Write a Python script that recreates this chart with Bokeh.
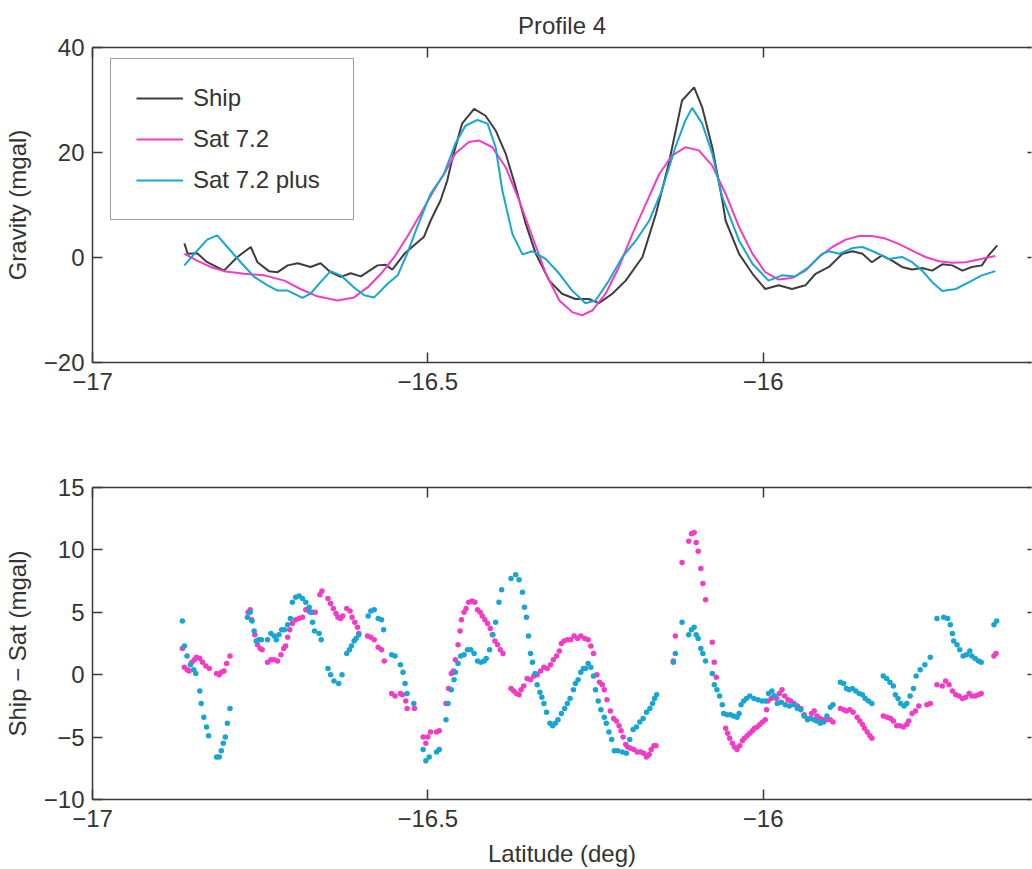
from bokeh.plotting import figure
from bokeh.models import Range1d, FixedTicker, LinearAxis, Legend, LegendItem
from bokeh.layouts import column
from bokeh.embed import file_html
from bokeh.resources import INLINE

FONT = "Liberation Sans"
TXT = "#333333"
AXC = "#3a3a3a"
C_SHIP = "#3d3d3d"
C_S72 = "#f23cc6"
C_S72P = "#17a6d2"
FS = "24px"

# ---------------- tick values / labels ----------------
x_ticks = [-17, -16.5, -16]
x_tick_labels = {-17: "\u221217", -16.5: "\u221216.5", -16: "\u221216"}
top_y_ticks = [-20, 0, 20, 40]
top_y_labels = {-20: "\u221220", 0: "0", 20: "20", 40: "40"}
bot_y_ticks = [-10, -5, 0, 5, 10, 15]
bot_y_labels = {-10: "\u221210", -5: "\u22125", 0: "0", 5: "5", 10: "10", 15: "15"}

# ---------------- top panel: gravity profiles ----------------
lat_ship = [-16.863, -16.858, -16.844, -16.829, -16.804, -16.784, -16.764, -16.754, -16.737, -16.724,
            -16.709, -16.694, -16.675, -16.660, -16.645, -16.630, -16.615, -16.600, -16.575, -16.563,
            -16.553, -16.535, -16.521, -16.506, -16.496, -16.481, -16.471, -16.463, -16.449, -16.431,
            -16.414, -16.399, -16.384, -16.369, -16.354, -16.339, -16.319, -16.300, -16.280, -16.260,
            -16.245, -16.225, -16.205, -16.180, -16.160, -16.141, -16.121, -16.103, -16.091, -16.076,
            -16.061, -16.056, -16.036, -16.016, -15.997, -15.977, -15.957, -15.937, -15.922, -15.902,
            -15.882, -15.867, -15.852, -15.838, -15.823, -15.808, -15.793, -15.778, -15.763, -15.748,
            -15.733, -15.718, -15.703, -15.689, -15.674, -15.664, -15.651]
grav_ship = [2.7, 0.7, 0.8, -0.9, -2.5, 0.1, 2.0, -0.9, -2.6, -2.8,
             -1.5, -1.1, -1.8, -1.1, -2.8, -3.7, -3.0, -3.6, -1.5, -1.4,
             -2.3, 0.7, 2.3, 3.9, 7.0, 10.9, 14.7, 19.1, 25.5, 28.3,
             27.0, 24.2, 19.8, 13.4, 6.4, 0.7, -4.4, -6.9, -7.9, -7.9,
             -8.7, -6.9, -4.4, 0.1, 8.3, 17.8, 29.9, 32.4, 28.6, 21.0,
             10.9, 7.0, 0.7, -3.1, -6.0, -5.3, -6.0, -5.3, -3.1, -1.8,
             0.7, 1.2, 0.7, -0.9, 0.4, -0.6, -1.8, -2.3, -2.0, -2.5,
             -1.3, -1.5, -2.5, -1.8, -1.5, 0.4, 2.3]

lat_s72 = [-16.863, -16.844, -16.824, -16.804, -16.774, -16.744, -16.714, -16.690, -16.665, -16.635,
           -16.610, -16.590, -16.570, -16.550, -16.531, -16.511, -16.491, -16.476, -16.459, -16.439,
           -16.424, -16.404, -16.384, -16.364, -16.344, -16.324, -16.304, -16.285, -16.270, -16.255,
           -16.235, -16.215, -16.195, -16.175, -16.155, -16.136, -16.116, -16.096, -16.076, -16.056,
           -16.036, -16.016, -15.997, -15.977, -15.957, -15.937, -15.917, -15.897, -15.877, -15.857,
           -15.838, -15.818, -15.798, -15.778, -15.758, -15.738, -15.718, -15.698, -15.679, -15.654]
grav_s72 = [0.7, -0.6, -1.8, -2.6, -3.1, -3.4, -4.4, -6.0, -7.4, -8.2,
            -7.6, -5.7, -3.1, 0.1, 3.9, 8.3, 12.8, 15.9, 19.8, 22.0,
            22.3, 21.0, 17.2, 10.9, 3.9, -3.1, -8.2, -10.4, -11.0, -10.1,
            -6.9, -1.8, 4.5, 10.2, 15.9, 19.4, 21.0, 20.4, 17.5, 12.1,
            5.8, 0.7, -2.8, -4.2, -3.9, -2.5, 0.1, 2.0, 3.4, 4.1,
            4.1, 3.6, 2.6, 1.3, 0.1, -0.7, -1.0, -0.9, -0.4, 0.3]

lat_s72p = [-16.863, -16.844, -16.829, -16.814, -16.799, -16.779, -16.759, -16.739, -16.724, -16.709,
            -16.687, -16.675, -16.660, -16.645, -16.630, -16.610, -16.595, -16.580, -16.560, -16.545,
            -16.531, -16.516, -16.496, -16.476, -16.459, -16.444, -16.426, -16.411, -16.399, -16.389,
            -16.374, -16.359, -16.344, -16.324, -16.304, -16.285, -16.265, -16.250, -16.230, -16.210,
            -16.190, -16.170, -16.151, -16.131, -16.116, -16.106, -16.091, -16.076, -16.061, -16.036,
            -16.016, -15.992, -15.972, -15.952, -15.932, -15.912, -15.902, -15.887, -15.867, -15.852,
            -15.833, -15.813, -15.793, -15.778, -15.763, -15.748, -15.733, -15.713, -15.693, -15.674,
            -15.654]
grav_s72p = [-1.5, 1.3, 3.4, 4.2, 2.0, -0.9, -3.7, -5.3, -6.3, -6.3,
             -7.7, -6.9, -4.7, -2.6, -3.4, -5.7, -7.2, -7.6, -5.0, -3.4,
             0.7, 5.8, 12.1, 15.9, 21.7, 25.1, 26.2, 25.5, 21.0, 12.8,
             4.5, 0.6, 1.2, -0.3, -3.1, -6.3, -8.7, -8.2, -4.4, 0.1,
             3.2, 7.0, 12.8, 21.0, 26.1, 28.5, 25.5, 19.8, 11.5, 3.2,
             -1.2, -4.4, -3.4, -3.6, -1.8, 0.7, 1.2, 0.7, 1.8, 2.0,
             1.0, -0.3, 0.1, -0.9, -2.5, -4.7, -6.4, -6.0, -4.7, -3.4,
             -2.6]

# ---------------- bottom panel: Ship - Sat differences ----------------
lat_d72 = [-16.866, -16.863, -16.859, -16.856, -16.852, -16.848, -16.845, -16.840, -16.836, -16.831,
           -16.826, -16.815, -16.811, -16.808, -16.804, -16.800, -16.795,
           -16.768, -16.765, -16.763, -16.758, -16.754, -16.750, -16.747, -16.739, -16.734, -16.729,
           -16.724, -16.719, -16.715, -16.712, -16.709, -16.706, -16.702, -16.697, -16.692, -16.687,
           -16.682, -16.677, -16.672, -16.668,
           -16.661, -16.658, -16.649, -16.645, -16.641, -16.637, -16.634, -16.630, -16.627, -16.621,
           -16.616, -16.613, -16.609, -16.605, -16.603, -16.590, -16.585, -16.580, -16.574, -16.569,
           -16.565,
           -16.554, -16.549, -16.541, -16.538, -16.533, -16.531, -16.520,
           -16.507, -16.503, -16.500, -16.496, -16.487, -16.483, -16.473, -16.469, -16.465, -16.462,
           -16.459, -16.455, -16.452, -16.450, -16.446, -16.443, -16.439, -16.434, -16.430, -16.426,
           -16.422, -16.419, -16.415, -16.411, -16.407, -16.404, -16.400, -16.396, -16.392, -16.388,
           -16.376, -16.372, -16.368, -16.364, -16.361, -16.357, -16.352, -16.347, -16.342, -16.337,
           -16.332, -16.327, -16.322, -16.317, -16.313, -16.308, -16.304, -16.301, -16.297, -16.292,
           -16.287, -16.282, -16.277, -16.272, -16.266, -16.261, -16.257, -16.253, -16.248, -16.244,
           -16.240, -16.237, -16.233, -16.228, -16.223, -16.219, -16.215, -16.212, -16.209, -16.205,
           -16.202, -16.198, -16.193, -16.188, -16.183, -16.178, -16.174, -16.170, -16.167, -16.163,
           -16.160,
           -16.134, -16.131, -16.121, -16.111, -16.107, -16.103, -16.100, -16.097, -16.093, -16.090,
           -16.086, -16.076, -16.073, -16.070, -16.056, -16.053, -16.050, -16.046, -16.043, -16.039,
           -16.035, -16.031, -16.028, -16.024, -16.020, -16.016, -16.013, -16.009, -16.005, -16.001,
           -15.997, -15.995, -15.993, -15.988, -15.984, -15.980, -15.976, -15.972, -15.968, -15.963,
           -15.959, -15.954, -15.949, -15.944, -15.939, -15.934, -15.928, -15.924, -15.920, -15.915,
           -15.910, -15.905, -15.900, -15.896,
           -15.885, -15.880, -15.876, -15.871, -15.866, -15.860, -15.856, -15.852, -15.849, -15.845,
           -15.841, -15.838,
           -15.821, -15.815, -15.810, -15.806, -15.801, -15.796, -15.791, -15.786, -15.783, -15.778,
           -15.773, -15.768, -15.756, -15.751,
           -15.741, -15.733, -15.728, -15.723, -15.718, -15.713, -15.708, -15.703, -15.698, -15.693,
           -15.689, -15.684, -15.679, -15.675,
           -15.656, -15.653]
d72 = [2.1, 0.6, 0.4, 0.3, 1.0, 1.2, 1.4, 1.3, 1.0, 0.7,
       0.5, 0.1, 0.0, 0.2, 0.3, 0.9, 1.5,
       5.0, 5.2, 4.4, 3.2, 2.4, 2.1, 2.0, 1.0, 1.2, 1.2,
       1.1, 1.6, 2.1, 2.3, 3.0, 3.6, 4.1, 4.4, 4.5, 4.6,
       5.2, 5.1, 5.0, 5.0,
       6.4, 6.7, 6.1, 5.7, 5.3, 4.9, 4.6, 4.5, 4.7, 5.3,
       5.1, 4.6, 4.2, 3.8, 3.3, 3.1, 3.0, 2.8, 2.2, 2.0,
       1.1,
       -1.5, -1.7, -1.5, -1.6, -2.1, -2.7, -2.7,
       -5.0, -5.5, -5.0, -4.6, -4.6, -4.5, -2.3, -1.1, 0.1, 0.3,
       1.2, 2.4, 3.5, 4.4, 5.0, 5.3, 5.8, 5.9, 5.8, 5.2,
       5.0, 4.7, 4.4, 4.1, 3.7, 3.2, 2.7, 2.4, 2.0, 1.7,
       -1.1, -1.3, -1.5, -1.6, -1.2, -0.9, -0.3, -0.4, -0.1, 0.0,
       0.3, 0.6, 0.5, 0.8, 1.2, 1.5, 1.9, 2.5, 2.7, 2.8,
       2.8, 3.1, 2.9, 3.1, 2.9, 2.8, 2.3, 1.7, 0.0, -0.6,
       -0.8, -1.2, -2.0, -2.9, -3.5, -3.7, -4.1, -4.5, -5.0, -5.6,
       -5.8, -5.9, -6.0, -6.2, -6.2, -6.3, -6.6, -6.4, -6.0, -5.7,
       -5.7,
       1.1, 3.1, 9.0, 10.7, 11.3, 11.4, 10.6, 9.9, 8.5, 7.3,
       6.0, 2.6, 1.0, -0.2, -4.3, -4.7, -5.1, -5.5, -5.8, -6.0,
       -5.7, -5.3, -5.1, -4.9, -4.7, -4.5, -4.3, -4.2, -4.0, -3.8,
       -3.6, -2.8, -2.1, -1.9, -1.7, -1.9, -1.5, -1.2, -1.7, -2.0,
       -2.1, -2.3, -2.5, -2.7, -3.2, -3.5, -3.1, -2.9, -3.3, -3.5,
       -3.6, -3.6, -3.6, -3.8,
       -2.7, -2.8, -2.9, -2.8, -3.0, -3.4, -3.7, -4.0, -4.3, -4.6,
       -4.9, -5.1,
       -3.3, -3.4, -3.5, -3.7, -4.1, -4.1, -4.2, -4.0, -3.7, -3.1,
       -2.9, -2.5, -2.4, -2.3,
       -0.8, -0.9, -0.5, -0.8, -1.3, -1.6, -1.7, -1.9, -1.8, -1.5,
       -1.7, -1.7, -1.6, -1.5,
       1.5, 1.7]

lat_d72p = [-16.866, -16.863, -16.859, -16.854, -16.849, -16.846, -16.840, -16.838, -16.834, -16.830,
            -16.827, -16.815, -16.811, -16.808, -16.805, -16.802, -16.799, -16.795,
            -16.769, -16.765, -16.762, -16.759, -16.756, -16.752, -16.748, -16.739, -16.734, -16.729,
            -16.726, -16.722, -16.718, -16.714, -16.709, -16.705, -16.702, -16.697, -16.692, -16.687,
            -16.682, -16.677, -16.675, -16.672, -16.669, -16.662, -16.659,
            -16.649, -16.645, -16.640, -16.633, -16.628,
            -16.621, -16.617, -16.614, -16.610, -16.607, -16.603, -16.589, -16.585, -16.580, -16.574,
            -16.569, -16.566, -16.554, -16.549, -16.541, -16.537, -16.534, -16.531, -16.521,
            -16.507, -16.503, -16.498, -16.487, -16.483, -16.473, -16.470, -16.465, -16.461, -16.459,
            -16.455, -16.451, -16.446, -16.441, -16.436, -16.431, -16.426, -16.421, -16.416, -16.413,
            -16.408, -16.403, -16.399, -16.394, -16.390,
            -16.376, -16.369, -16.364, -16.359, -16.356, -16.353, -16.350, -16.347, -16.344, -16.340,
            -16.337, -16.333, -16.330, -16.327, -16.323, -16.318, -16.314, -16.310, -16.306, -16.301,
            -16.296, -16.292, -16.288, -16.283, -16.280, -16.276, -16.272, -16.268, -16.265, -16.261,
            -16.257, -16.253, -16.250, -16.246, -16.242, -16.237, -16.234, -16.230, -16.226, -16.222,
            -16.217, -16.210, -16.204, -16.199, -16.194, -16.189, -16.184, -16.179, -16.174, -16.169,
            -16.165, -16.162, -16.159,
            -16.134, -16.131, -16.121, -16.111, -16.107, -16.103, -16.100, -16.097, -16.093, -16.090,
            -16.086, -16.076, -16.073, -16.069, -16.065, -16.061, -16.059, -16.054, -16.049, -16.044,
            -16.039, -16.036, -16.033, -16.029, -16.025, -16.020, -16.014, -16.008, -16.002, -15.997,
            -15.992, -15.987, -15.983, -15.979, -15.973, -15.967, -15.961, -15.954, -15.949, -15.944,
            -15.939, -15.934, -15.929, -15.924, -15.920, -15.915, -15.910, -15.905, -15.900, -15.896,
            -15.885, -15.880, -15.876, -15.872, -15.867, -15.862, -15.857, -15.852, -15.848, -15.843,
            -15.838,
            -15.821, -15.816, -15.811, -15.806, -15.803, -15.799, -15.795, -15.790, -15.786, -15.781,
            -15.776, -15.772, -15.766, -15.759, -15.751,
            -15.741, -15.731, -15.725, -15.721, -15.718, -15.716, -15.711, -15.707, -15.702, -15.697,
            -15.692, -15.689, -15.684, -15.679, -15.675,
            -15.656, -15.652]
d72p = [4.3, 2.3, 1.5, 0.8, 0.4, 0.1, -1.3, -2.3, -3.4, -4.2,
        -4.9, -6.6, -6.6, -6.1, -5.5, -5.0, -3.9, -2.7,
        4.6, 5.0, 4.3, 3.5, 2.7, 2.8, 2.8, 2.8, 3.3, 3.1,
        2.8, 3.2, 3.6, 3.6, 4.0, 4.5, 5.8, 6.2, 6.3, 6.1,
        5.8, 5.4, 5.0, 4.2, 3.5, 3.3, 2.8,
        0.5, 0.0, -0.5, -0.7, 0.0,
        1.7, 2.0, 2.3, 2.7, 2.9, 3.2, 4.7, 5.1, 5.2, 4.5,
        4.4, 3.6, 1.6, 1.5, 0.8, 0.2, -0.7, -1.5, -2.3,
        -6.0, -6.9, -6.6, -6.2, -6.0, -3.6, -2.3, -1.2, -0.4, 0.2,
        0.9, 1.5, 1.6, 2.0, 2.0, 1.7, 1.1, 1.0, 1.1, 1.3,
        2.0, 3.2, 4.2, 5.8, 6.8,
        7.7, 8.0, 7.6, 6.6, 5.4, 4.6, 3.1, 1.7, 1.0, 0.1,
        -0.8, -1.4, -1.8, -2.3, -3.0, -3.9, -4.1, -3.9, -3.6, -3.1,
        -2.7, -2.3, -1.9, -1.2, -0.7, -0.4, 0.2, 0.5, 0.5, 0.9,
        0.6, -0.1, -1.2, -2.1, -2.8, -3.4, -3.9, -4.6, -5.2, -6.1,
        -6.1, -6.2, -6.3, -5.2, -4.4, -4.2, -3.8, -3.5, -3.0, -2.7,
        -2.3, -1.9, -1.6,
        1.0, 1.7, 4.2, 3.2, 3.6, 3.8, 3.2, 2.9, 2.1, 1.7,
        1.1, 0.1, -0.8, -1.2, -1.7, -2.4, -3.1, -3.2, -3.2, -3.3,
        -3.4, -3.1, -2.4, -2.1, -1.9, -1.7, -1.9, -2.0, -2.1, -2.1,
        -1.5, -1.3, -1.7, -2.3, -2.2, -2.4, -2.5, -2.4, -2.7, -2.8,
        -3.3, -3.6, -3.5, -3.6, -3.7, -3.9, -3.8, -3.3, -2.6, -2.4,
        -0.6, -0.7, -1.1, -1.2, -1.1, -1.3, -1.5, -1.6, -1.9, -2.1,
        -2.3,
        -0.1, -0.3, -0.6, -0.9, -1.6, -1.9, -2.3, -2.5, -2.3, -1.7,
        -1.1, -0.1, 0.4, 0.8, 1.4,
        4.5, 4.6, 4.5, 4.0, 3.3, 2.7, 2.4, 2.0, 1.5, 1.6,
        1.9, 1.5, 1.3, 1.1, 1.0,
        4.0, 4.3]


def style_axis(ax, show_labels=True):
    ax.axis_line_color = AXC
    ax.axis_line_width = 1.5
    ax.major_tick_line_color = AXC
    ax.major_tick_line_width = 1.5
    ax.major_tick_in = 10
    ax.major_tick_out = 0
    ax.minor_tick_in = 0
    ax.minor_tick_out = 0
    ax.minor_tick_line_color = None
    ax.major_label_text_font = FONT
    ax.major_label_text_color = TXT
    ax.major_label_text_font_size = FS if show_labels else "0px"
    ax.axis_label_text_font = FONT
    ax.axis_label_text_font_size = FS
    ax.axis_label_text_color = TXT
    ax.axis_label_text_font_style = "normal"


def make_panel(height, y_lo, y_hi, yticks, ylabels, ylabel, min_top, min_bottom, xlabel=None):
    p = figure(width=1032, height=height,
               x_range=Range1d(-17, -15.6), y_range=Range1d(y_lo, y_hi),
               x_axis_type=None, y_axis_type=None,
               output_backend="svg", toolbar_location=None,
               min_border_left=90, min_border_right=1,
               min_border_top=min_top, min_border_bottom=min_bottom)
    p.outline_line_color = None
    p.background_fill_color = "white"
    p.border_fill_color = "white"

    xb = LinearAxis(ticker=FixedTicker(ticks=x_ticks), major_label_overrides=x_tick_labels)
    style_axis(xb)
    xb.major_label_standoff = 10
    if xlabel:
        xb.axis_label = xlabel
        xb.axis_label_standoff = 10
    p.add_layout(xb, "below")

    yl = LinearAxis(ticker=FixedTicker(ticks=yticks), major_label_overrides=ylabels,
                    axis_label=ylabel)
    style_axis(yl)
    yl.major_label_standoff = 8
    yl.axis_label_standoff = 10
    p.add_layout(yl, "left")

    xt = LinearAxis(ticker=FixedTicker(ticks=x_ticks),
                    major_label_overrides={t: "" for t in x_ticks})
    style_axis(xt, show_labels=False)
    xt.major_label_standoff = 0
    p.add_layout(xt, "above")

    yr = LinearAxis(ticker=FixedTicker(ticks=yticks),
                    major_label_overrides={t: "" for t in yticks})
    style_axis(yr, show_labels=False)
    yr.axis_line_color = None
    yr.major_tick_in = 4
    yr.major_label_standoff = 0
    p.add_layout(yr, "right")
    return p


# ---------- top panel ----------
p1 = make_panel(430, -20, 40, top_y_ticks, top_y_labels, "Gravity (mgal)", 47, 68)
p1.title.text = "Profile 4"
p1.title.align = "center"
p1.title.text_font = FONT
p1.title.text_font_size = FS
p1.title.text_font_style = "normal"
p1.title.text_color = TXT
p1.title.standoff = 18

r_ship = p1.line(lat_ship, grav_ship, line_color=C_SHIP, line_width=2)
r_s72 = p1.line(lat_s72, grav_s72, line_color=C_S72, line_width=2)
r_s72p = p1.line(lat_s72p, grav_s72p, line_color=C_S72P, line_width=2)

legend = Legend(items=[LegendItem(label="Ship", renderers=[r_ship]),
                       LegendItem(label="Sat 7.2", renderers=[r_s72]),
                       LegendItem(label="Sat 7.2 plus", renderers=[r_s72p])],
                location=(18, 142), margin=0, padding=25, spacing=13,
                glyph_width=47, glyph_height=24, label_height=27, label_width=135,
                label_standoff=10, label_text_font=FONT, label_text_font_size=FS,
                label_text_color=TXT, border_line_color=AXC, border_line_width=1.5,
                background_fill_color="white", background_fill_alpha=1.0)
p1.add_layout(legend)

# ---------- bottom panel ----------
p2 = make_panel(439, -10, 15, bot_y_ticks, bot_y_labels, "Ship \u2212 Sat (mgal)", 57, 68,
                xlabel="Latitude (deg)")
p2.scatter(lat_d72, d72, marker="circle", size=5.5, fill_color=C_S72, line_color=None)
p2.scatter(lat_d72p, d72p, marker="circle", size=5.5, fill_color=C_S72P, line_color=None)

layout = column(p1, p2, spacing=0)
open("out.html", "w").write(file_html(layout, INLINE, title="Profile 4"))
